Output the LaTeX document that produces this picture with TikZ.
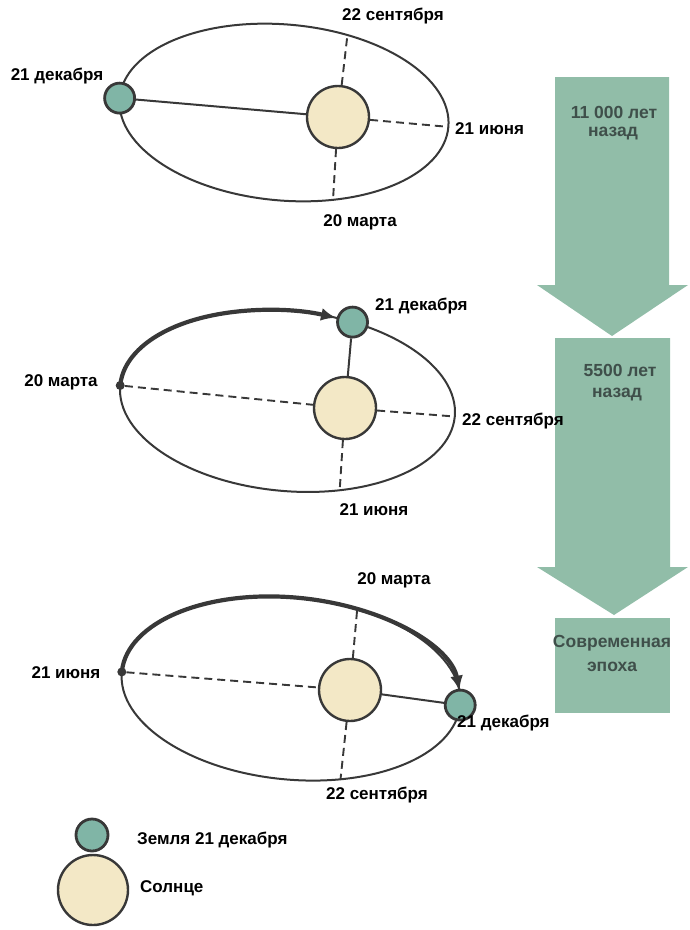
\documentclass[tikz,border=0pt]{standalone}
\usepackage{fontspec}
\setmainfont{Liberation Sans}
\usetikzlibrary{arrows.meta}
\definecolor{orbit}{HTML}{383838}
\definecolor{earthc}{HTML}{80B5A6}
\definecolor{sunc}{HTML}{F3E8C6}
\definecolor{arrowc}{HTML}{91BDA8}
\definecolor{arrowtxt}{HTML}{3F4F4A}
\begin{document}
\begin{tikzpicture}[x=1pt,y=-1pt,
  orbitline/.style={line width=2pt, draw=orbit},
  dashline/.style={line width=1.9pt, draw=orbit, dash pattern=on 8pt off 5pt},
  earth/.style={circle, draw=orbit, line width=2.8pt, fill=earthc, minimum size=30pt, inner sep=0pt},
  sun/.style={circle, draw=orbit, line width=2.4pt, fill=sunc, minimum size=62pt, inner sep=0pt},
  dot/.style={circle, fill=orbit, minimum size=9pt, inner sep=0pt},
  lbl/.style={font=\fontsize{17}{19}\selectfont\bfseries, text=black, inner sep=0pt},
  atxt/.style={font=\fontsize{17.5}{19}\selectfont\bfseries, text=arrowtxt, inner sep=0pt},
  motion/.style={line width=4.2pt, draw=orbit, -{Latex[length=15pt,width=13pt]}},
]
\useasboundingbox (0,0) rectangle (690,930);

% ---- time arrows column ----
\fill[arrowc] (555,77) -- (669,77) -- (669,285) -- (688,285) -- (612,336) -- (537,285) -- (555,285) -- cycle;
\fill[arrowc] (555,338) -- (670,338) -- (670,567) -- (688,567) -- (614,615) -- (537,567) -- (555,567) -- cycle;
\fill[arrowc] (555,618) rectangle (670,713);
\node[atxt] (ta1) at (614,112) {11 000 лет};
\node[atxt] (ta2) at (613,134) {назад};
\node[atxt] (tb1) at (620,370) {5500 лет};
\node[atxt] (tb2) at (617,395) {назад};
\node[atxt] (tc1) at (612,643) {Современная};
\node[atxt] (tc2) at (612,667) {эпоха};

% ---- diagram 1 ----
\node[sun] (s1) at (338,117) {};
\begin{scope}[shift={(284,112.5)}, rotate=-5]
  \draw[orbitline] (0,0) ellipse [x radius=165, y radius=88];
  \coordinate (o1t) at (-70:165 and 88);
  \coordinate (o1r) at (0:165 and 88);
  \coordinate (o1b) at (70:165 and 88);
  \node[earth] (e1) at (180:165 and 88) {};
\end{scope}
\draw[orbitline] (e1) -- (s1);
\draw[dashline] (s1) -- (o1t);
\draw[dashline] (s1) -- (o1r);
\draw[dashline] (s1) -- (o1b);
\node[lbl] (l1a) at (393,16) {22 сентября};
\node[lbl] (l1b) at (57,76) {21 декабря};
\node[lbl, anchor=west] (l1c) at (455,129) {21 июня};
\node[lbl] (l1d) at (360,222) {20 марта};

% ---- diagram 2 ----
\node[sun] (s2) at (345,408) {};
\begin{scope}[shift={(287.5,401)}, rotate=-5.3]
  \draw[orbitline] (0,0) ellipse [x radius=168, y radius=90];
  \draw[motion] (180:168 and 90) arc[start angle=180, end angle=284, x radius=168, y radius=90];
  \node[dot] (d2) at (180:168 and 90) {};
  \coordinate (o2r) at (0:168 and 90);
  \coordinate (o2b) at (69:168 and 90);
  \node[earth] (e2) at (-70:168 and 90) {};
\end{scope}
\draw[orbitline] (e2) -- (s2);
\draw[dashline] (d2) -- (s2);
\draw[dashline] (s2) -- (o2r);
\draw[dashline] (s2) -- (o2b);
\node[lbl, anchor=west] (l2a) at (375,306) {21 декабря};
\node[lbl] (l2b) at (61,382) {20 марта};
\node[lbl, anchor=west] (l2c) at (462,421) {22 сентября};
\node[lbl] (l2d) at (374,510) {21 июня};

% ---- diagram 3 ----
\node[sun] (s3) at (350,690) {};
\begin{scope}[shift={(291,688.5)}, rotate=-5.6]
  \draw[orbitline] (0,0) ellipse [x radius=170, y radius=91];
  \draw[motion] (180:170 and 91) arc[start angle=180, end angle=351, x radius=170, y radius=91];
  \node[dot] (d3) at (180:170 and 91) {};
  \coordinate (o3t) at (-70:170 and 91);
  \coordinate (o3b) at (70:170 and 91);
  \node[earth] (e3) at (0:170 and 91) {};
\end{scope}
\draw[orbitline] (s3) -- (e3);
\draw[dashline] (d3) -- (s3);
\draw[dashline] (s3) -- (o3t);
\draw[dashline] (s3) -- (o3b);
\node[lbl] (l3a) at (394,580) {20 марта};
\node[lbl] (l3b) at (66,673) {21 июня};
\node[lbl, anchor=west] (l3c) at (457,723) {21 декабря};
\node[lbl] (l3d) at (377,795) {22 сентября};

% ---- legend ----
\node[earth, minimum size=32pt] (le) at (92,835) {};
\node[sun, minimum size=70pt] (ls) at (93,890) {};
\node[lbl, anchor=west] (lt1) at (137,840) {Земля 21 декабря};
\node[lbl, anchor=west] (lt2) at (140,888) {Солнце};
\end{tikzpicture}
\end{document}
